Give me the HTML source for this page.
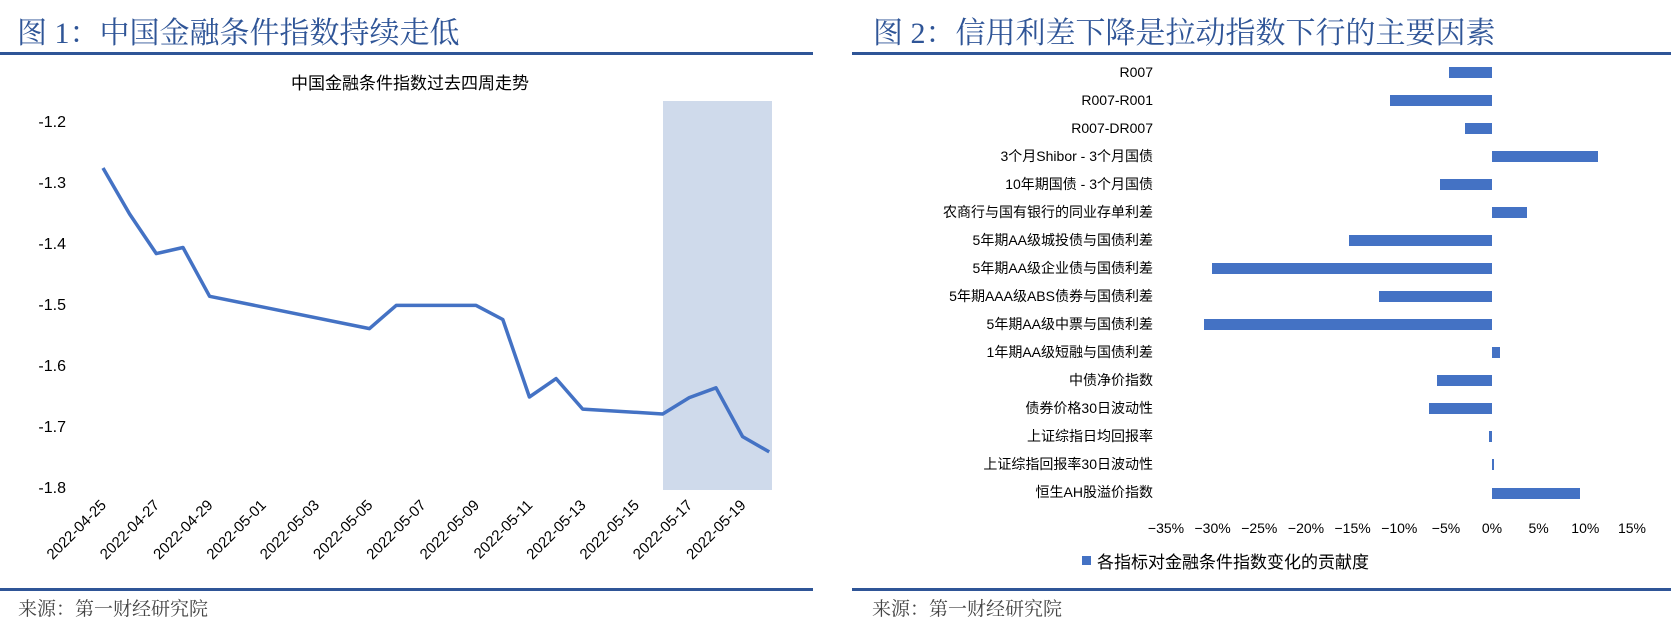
<!DOCTYPE html>
<html><head><meta charset="utf-8"><style>
body{margin:0;background:#fff;}
svg{display:block;}
</style></head><body>
<svg width="1671" height="630" xmlns="http://www.w3.org/2000/svg" font-family="'Liberation Sans','Noto Sans CJK SC',sans-serif">
<!-- headers -->
<text x="17" y="43" font-family="'Liberation Serif','Noto Serif CJK SC',serif" font-size="30" fill="#2f5597">图 1：中国金融条件指数持续走低</text>
<text x="873" y="43" font-family="'Liberation Serif','Noto Serif CJK SC',serif" font-size="30" fill="#2f5597">图 2：信用利差下降是拉动指数下行的主要因素</text>
<rect x="0" y="52" width="813" height="3" fill="#2f5597"/>
<rect x="852" y="52" width="819" height="3" fill="#2f5597"/>
<rect x="0" y="588" width="813" height="3" fill="#2f5597"/>
<rect x="852" y="588" width="819" height="3" fill="#2f5597"/>
<text x="18" y="615" font-family="'Liberation Serif','Noto Serif CJK SC',serif" font-size="19" fill="#444">来源：第一财经研究院</text>
<text x="872" y="615" font-family="'Liberation Serif','Noto Serif CJK SC',serif" font-size="19" fill="#444">来源：第一财经研究院</text>

<!-- left chart -->
<text x="410" y="89" font-size="17" text-anchor="middle" fill="#000">中国金融条件指数过去四周走势</text>
<rect x="663" y="101" width="109" height="389" fill="#cfdaeb"/>
<g font-size="16" fill="#000" text-anchor="end">
<text x="66" y="127">-1.2</text>
<text x="66" y="188">-1.3</text>
<text x="66" y="249">-1.4</text>
<text x="66" y="310">-1.5</text>
<text x="66" y="371">-1.6</text>
<text x="66" y="432">-1.7</text>
<text x="66" y="493">-1.8</text>
</g>
<polyline fill="none" stroke="#4472c4" stroke-width="3.5" stroke-linejoin="round" points="103,168 129.6,214 156.3,253.6 183,247.5 209.6,296.3 369.5,328.6 396.2,305.4 476.1,305.4 502.8,319.5 529.4,397 556.1,378.6 582.7,409.1 662.7,414 689.3,397.6 716,387.8 742.6,436.6 769.2,451.9"/>
<g font-size="15" fill="#000" text-anchor="end">
<text transform="translate(107,506) rotate(-45)">2022-04-25</text>
<text transform="translate(160.3,506) rotate(-45)">2022-04-27</text>
<text transform="translate(213.6,506) rotate(-45)">2022-04-29</text>
<text transform="translate(266.9,506) rotate(-45)">2022-05-01</text>
<text transform="translate(320.2,506) rotate(-45)">2022-05-03</text>
<text transform="translate(373.5,506) rotate(-45)">2022-05-05</text>
<text transform="translate(426.8,506) rotate(-45)">2022-05-07</text>
<text transform="translate(480.1,506) rotate(-45)">2022-05-09</text>
<text transform="translate(533.4,506) rotate(-45)">2022-05-11</text>
<text transform="translate(586.7,506) rotate(-45)">2022-05-13</text>
<text transform="translate(640,506) rotate(-45)">2022-05-15</text>
<text transform="translate(693.3,506) rotate(-45)">2022-05-17</text>
<text transform="translate(746.6,506) rotate(-45)">2022-05-19</text>
</g>

<!-- right chart -->
<g font-size="14" fill="#000" text-anchor="end">
<text x="1153" y="77">R007</text>
<text x="1153" y="105">R007-R001</text>
<text x="1153" y="133">R007-DR007</text>
<text x="1153" y="161">3个月Shibor - 3个月国债</text>
<text x="1153" y="189">10年期国债 - 3个月国债</text>
<text x="1153" y="217">农商行与国有银行的同业存单利差</text>
<text x="1153" y="245">5年期AA级城投债与国债利差</text>
<text x="1153" y="273">5年期AA级企业债与国债利差</text>
<text x="1153" y="301">5年期AAA级ABS债券与国债利差</text>
<text x="1153" y="329">5年期AA级中票与国债利差</text>
<text x="1153" y="357">1年期AA级短融与国债利差</text>
<text x="1153" y="385">中债净价指数</text>
<text x="1153" y="413">债券价格30日波动性</text>
<text x="1153" y="441">上证综指日均回报率</text>
<text x="1153" y="469">上证综指回报率30日波动性</text>
<text x="1153" y="497">恒生AH股溢价指数</text>
</g>
<g fill="#4472c4">
<rect x="1449" y="67" width="43" height="11"/>
<rect x="1390" y="95" width="102" height="11"/>
<rect x="1465" y="123" width="27" height="11"/>
<rect x="1492" y="151" width="106" height="11"/>
<rect x="1440" y="179" width="52" height="11"/>
<rect x="1492" y="207" width="35" height="11"/>
<rect x="1349" y="235" width="143" height="11"/>
<rect x="1212" y="263" width="280" height="11"/>
<rect x="1379" y="291" width="113" height="11"/>
<rect x="1204" y="319" width="288" height="11"/>
<rect x="1492" y="347" width="8" height="11"/>
<rect x="1437" y="375" width="55" height="11"/>
<rect x="1429" y="403" width="63" height="11"/>
<rect x="1489" y="431" width="3" height="11"/>
<rect x="1492" y="459" width="2" height="11"/>
<rect x="1492" y="488" width="88" height="11"/>
</g>
<g font-size="14" fill="#000" text-anchor="middle">
<text x="1166" y="533">−35%</text>
<text x="1212.6" y="533">−30%</text>
<text x="1259.3" y="533">−25%</text>
<text x="1306" y="533">−20%</text>
<text x="1352.6" y="533">−15%</text>
<text x="1399.3" y="533">−10%</text>
<text x="1446" y="533">−5%</text>
<text x="1492" y="533">0%</text>
<text x="1538.6" y="533">5%</text>
<text x="1585.3" y="533">10%</text>
<text x="1632" y="533">15%</text>
</g>
<rect x="1082" y="556" width="9" height="9" fill="#4472c4"/>
<text x="1097" y="568" font-size="17" fill="#000">各指标对金融条件指数变化的贡献度</text>
</svg>
</body></html>
